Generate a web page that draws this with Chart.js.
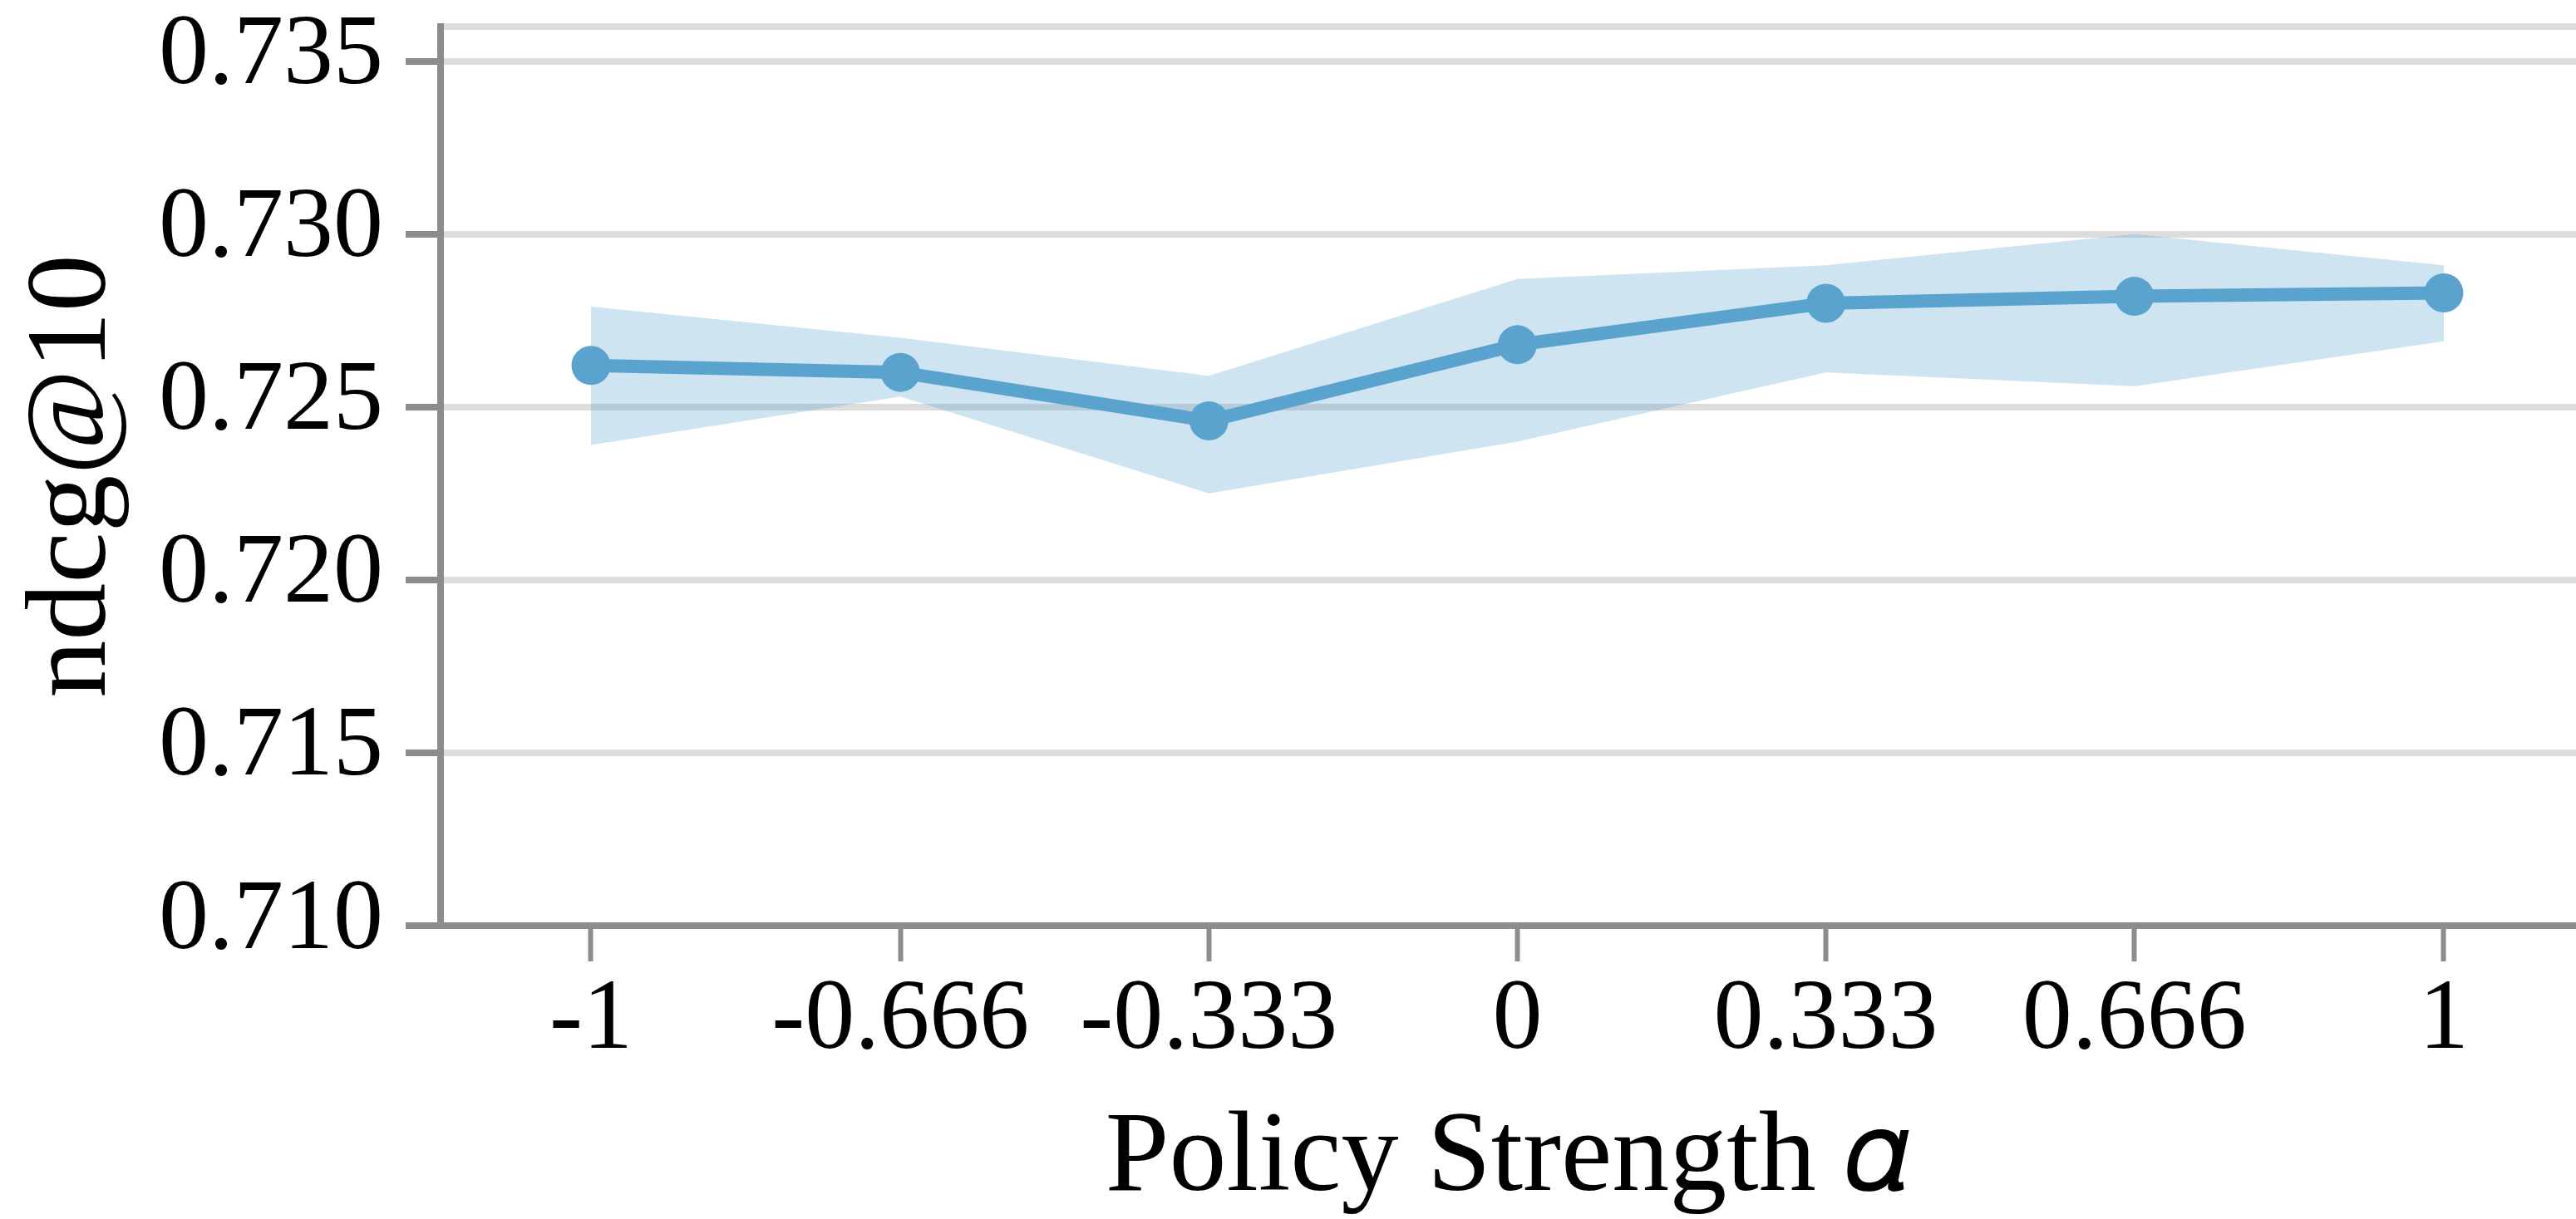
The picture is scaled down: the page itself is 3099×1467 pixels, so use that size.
<!DOCTYPE html>
<html>
<head>
<meta charset="utf-8">
<script src="https://cdn.jsdelivr.net/npm/chart.js@4.4.1/dist/chart.umd.min.js"></script>
<style>
  html, body { margin: 0; padding: 0; background: #ffffff; overflow: hidden; }
  canvas { display: block; }
</style>
</head>
<body>
<canvas id="chart" width="3099" height="1467"></canvas>
<script>
// Policy strength settings (x) and ndcg@10 results
const categories = ['-1', '-0.666', '-0.333', '0', '0.333', '0.666', '1'];
const ndcgMean  = [0.7262, 0.7260, 0.7246, 0.7268, 0.7280, 0.7282, 0.7283];
const ndcgUpper = [0.7279, 0.7270, 0.7259, 0.7287, 0.7291, 0.7300, 0.7291];
const ndcgLower = [0.7239, 0.7253, 0.7225, 0.7240, 0.7260, 0.7256, 0.7269];
const yTicks = [0.710, 0.715, 0.720, 0.725, 0.730, 0.735];

const Y_MIN = 0.710, Y_MAX = 0.736;
const SERIF = "'Liberation Serif', 'Times New Roman', 'DejaVu Serif', serif";
const AXIS_GREY = '#8c8c8c';
const GRID_GREY = '#dcdcdc';
const LINE_BLUE = '#5ba3cf';
const BAND_BLUE = 'rgba(92, 164, 207, 0.30)';

const xs = categories.map(Number);
const toPoints = arr => arr.map((v, i) => ({ x: xs[i], y: v }));

new Chart(document.getElementById('chart'), {
  type: 'line',
  data: {
    datasets: [
      {
        label: 'mean',
        data: toPoints(ndcgMean),
        borderColor: LINE_BLUE,
        backgroundColor: LINE_BLUE,
        borderWidth: 16,
        tension: 0,
        pointRadius: 23.5,
        pointBorderWidth: 0,
        pointBackgroundColor: LINE_BLUE,
        fill: false
      },
      {
        label: 'lower',
        data: toPoints(ndcgLower),
        borderWidth: 0,
        borderColor: 'rgba(0,0,0,0)',
        pointRadius: 0,
        tension: 0,
        fill: false
      },
      {
        label: 'upper',
        data: toPoints(ndcgUpper),
        borderWidth: 0,
        borderColor: 'rgba(0,0,0,0)',
        backgroundColor: BAND_BLUE,
        pointRadius: 0,
        tension: 0,
        fill: 1
      }
    ]
  },
  options: {
    responsive: false,
    animation: false,
    devicePixelRatio: 1,
    layout: { autoPadding: false, padding: { top: 32, right: 0, bottom: 0, left: 0 } },
    plugins: {
      legend: { display: false },
      tooltip: { enabled: false }
    },
    scales: {
      x: {
        type: 'linear',
        min: -1.1624,
        max: 1.1427,
        afterBuildTicks: s => { s.ticks = xs.map(v => ({ value: v })); },
        afterFit: s => {
          s.height = 353;
          s.paddingLeft = 0;
          s.paddingRight = 0;
        },
        ticks: {
          autoSkip: false,
          maxRotation: 0,
          padding: 0,
          color: '#000000',
          font: { family: SERIF, size: 120 },
          callback: (v, i) => categories[i]
        },
        grid: {
          drawOnChartArea: false,
          tickLength: 43,
          tickWidth: 6,
          tickColor: AXIS_GREY,
          color: AXIS_GREY
        },
        border: { display: true, color: AXIS_GREY, width: 8 },
        title: {
          display: true,
          text: 'Policy Strength 𝛼',
          color: '#000000',
          font: { family: SERIF, size: 138, lineHeight: 1 },
          padding: { top: 0, bottom: 2 }
        }
      },
      y: {
        type: 'linear',
        min: Y_MIN,
        max: Y_MAX,
        afterBuildTicks: s => { s.ticks = yTicks.concat([Y_MAX]).map(v => ({ value: v })); },
        afterFit: s => {
          s.width = 530;
          s.paddingTop = 0;
          s.paddingBottom = 0;
        },
        ticks: {
          padding: 27,
          labelOffset: -5,
          color: '#000000',
          font: { family: SERIF, size: 120 },
          callback: v => (v === Y_MAX ? '' : v.toFixed(3))
        },
        grid: {
          lineWidth: 8,
          tickLength: 42,
          tickWidth: 8,
          color: ctx => (ctx.tick && ctx.tick.value === Y_MIN ? 'rgba(0,0,0,0)' : GRID_GREY),
          tickColor: ctx => (ctx.tick && ctx.tick.value === Y_MAX ? 'rgba(0,0,0,0)' : AXIS_GREY)
        },
        border: { display: true, color: AXIS_GREY, width: 8 },
        title: {
          display: true,
          text: 'ndcg@10',
          color: '#000000',
          font: { family: SERIF, size: 138, lineHeight: 1 },
          padding: { top: 21, bottom: 0 }
        }
      }
    }
  }
});
</script>
</body>
</html>
